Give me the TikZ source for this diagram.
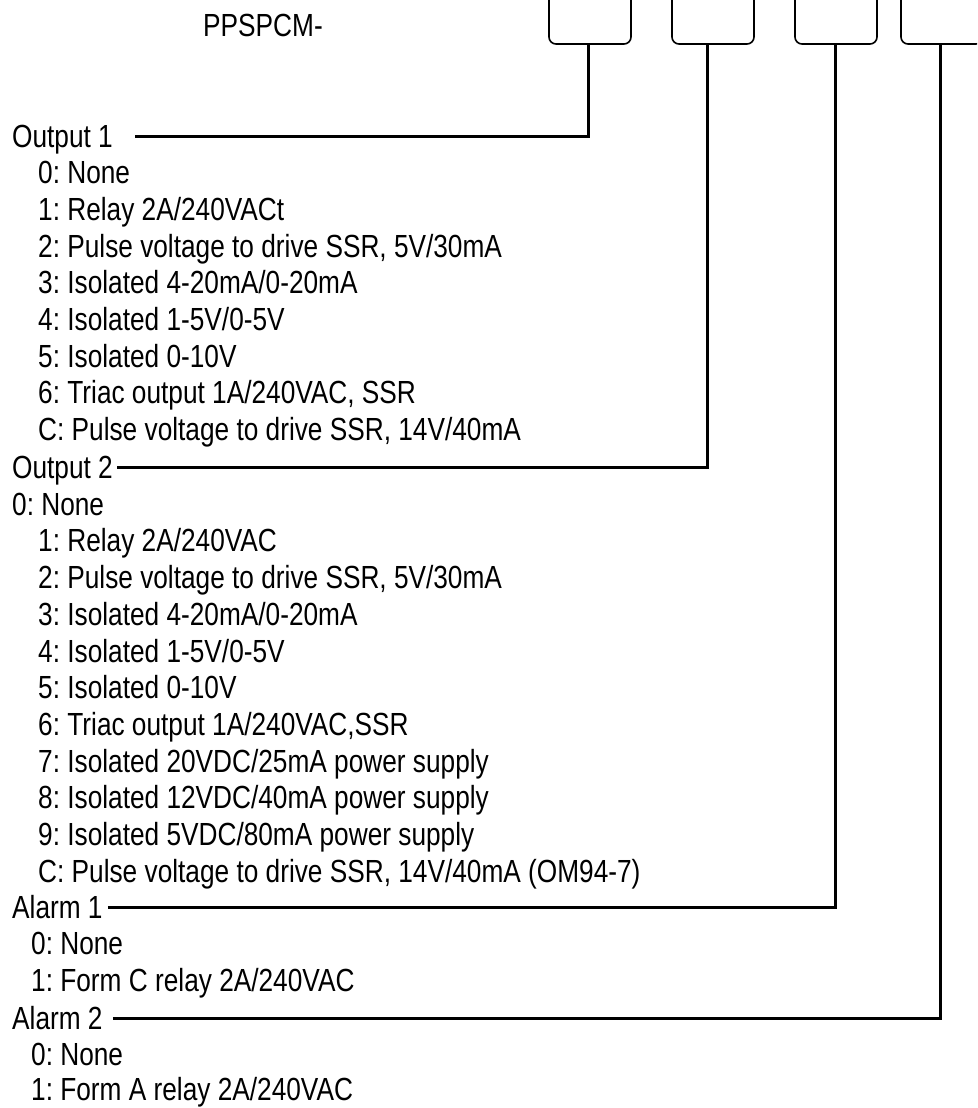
\documentclass[tikz,border=0pt]{standalone}
\usepackage{fontspec}
\setmainfont[FakeStretch=0.82]{Liberation Sans}
\frenchspacing
\begin{document}
\begin{tikzpicture}[x=1pt,y=-1pt,
  lbl/.style={anchor=west,inner sep=0pt,font=\fontsize{32}{36}\selectfont\frenchspacing,text height=22pt,text depth=0pt},
  slot/.style={draw,line width=1.6pt,rounded corners=7pt,minimum width=82pt,minimum height=70pt,inner sep=0pt},
  conn/.style={line width=3pt}]
\useasboundingbox (0,0) rectangle (977,1108);
\clip (0,0) rectangle (977,1108);
% title and slots
\node[lbl] (title) at (203,26) {PPSPCM-};
\node[slot] (b1) at (590,9) {};
\node[slot] (b2) at (713,9) {};
\node[slot] (b3) at (836,9) {};
\node[slot] (b4) at (942,9) {};
% Output 1
\node[lbl] (o1) at (12,136) {Output 1};
\node[lbl] at (38,172.7) {0: None};
\node[lbl] at (38,209.4) {1: Relay 2A/240VACt};
\node[lbl] at (38,246.1) {2: Pulse voltage to drive SSR, 5V/30mA};
\node[lbl] at (38,282.8) {3: Isolated 4-20mA/0-20mA};
\node[lbl] at (38,319.5) {4: Isolated 1-5V/0-5V};
\node[lbl] at (38,356.2) {5: Isolated 0-10V};
\node[lbl] at (38,392.9) {6: Triac output 1A/240VAC, SSR};
\node[lbl] at (38,429.6) {C: Pulse voltage to drive SSR, 14V/40mA};
% Output 2
\node[lbl] (o2) at (12,467.5) {Output 2};
\node[lbl] at (12,504.2) {0: None};
\node[lbl] at (38,540.9) {1: Relay 2A/240VAC};
\node[lbl] at (38,577.6) {2: Pulse voltage to drive SSR, 5V/30mA};
\node[lbl] at (38,614.3) {3: Isolated 4-20mA/0-20mA};
\node[lbl] at (38,651.0) {4: Isolated 1-5V/0-5V};
\node[lbl] at (38,687.7) {5: Isolated 0-10V};
\node[lbl] at (38,724.4) {6: Triac output 1A/240VAC,SSR};
\node[lbl] at (38,761.1) {7: Isolated 20VDC/25mA power supply};
\node[lbl] at (38,797.8) {8: Isolated 12VDC/40mA power supply};
\node[lbl] at (38,834.5) {9: Isolated 5VDC/80mA power supply};
\node[lbl] at (38,871.2) {C: Pulse voltage to drive SSR, 14V/40mA (OM94-7)};
% Alarm 1
\node[lbl] (a1) at (12,907) {Alarm 1};
\node[lbl] at (31,943.5) {0: None};
\node[lbl] at (31,980) {1: Form C relay 2A/240VAC};
% Alarm 2
\node[lbl] (a2) at (12,1018) {Alarm 2};
\node[lbl] at (31,1054) {0: None};
\node[lbl] at (31,1089) {1: Form A relay 2A/240VAC};
% connectors
\draw[conn] ([xshift=22pt]o1.east) -| ([xshift=-2pt]b1.south);
\draw[conn] ([xshift=4pt]o2.east) -| ([xshift=-6pt]b2.south);
\draw[conn] ([xshift=5pt]a1.east) -| ([xshift=-1pt]b3.south);
\draw[conn] ([xshift=10pt]a2.east) -| ([xshift=-2pt]b4.south);
\end{tikzpicture}
\end{document}
